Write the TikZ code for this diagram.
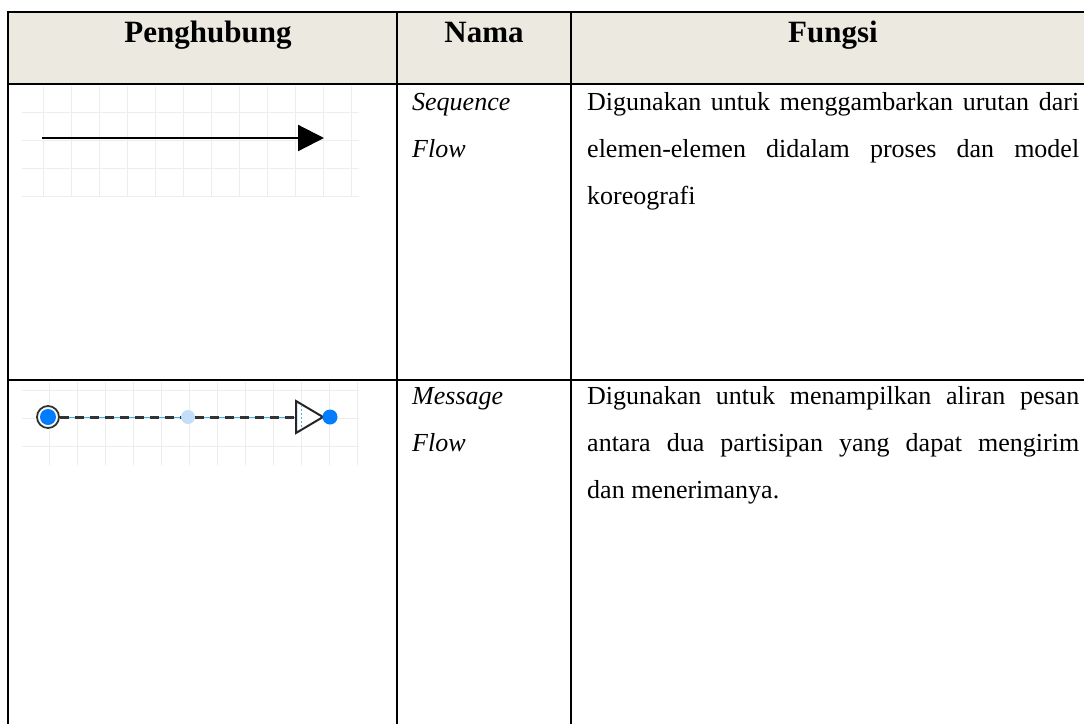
\documentclass[tikz,border=0pt]{standalone}
\usepackage{fontspec}
\setmainfont{Liberation Serif}
\usetikzlibrary{arrows.meta,calc}

\begin{document}
\begin{tikzpicture}[x=1pt, y=-1pt,
  rule/.style={line width=2pt, black},
  headtext/.style={inner sep=0pt, anchor=base, font=\fontsize{31}{37}\selectfont\bfseries},
  nametext/.style={inner sep=0pt, anchor=base west, font=\fontsize{26}{47}\selectfont\itshape},
  bodytext/.style={inner sep=0pt, anchor=base west, font=\fontsize{26}{47}\selectfont},
  gridline/.style={black!7, line width=1pt},
  flowdot/.style={circle, inner sep=0pt, minimum size=15pt, fill=flowblue}]

%─────────────
% Controls
%─────────────
\def\gridstep{28}   % Spacing of the light grid behind each connector
\definecolor{headbeige}{RGB}{236,234,224}
\definecolor{flowblue}{RGB}{0,124,255}
\definecolor{flowcyan}{RGB}{60,180,240}
\definecolor{midblue}{RGB}{196,222,250}

\useasboundingbox (0,0) rectangle (1084,724);

%───────────────────────────────────────────────────────
% Light grid patch behind a connector picture
% #1,#2 = top left, #3,#4 = bottom right, #5,#6 = first grid line
%───────────────────────────────────────────────────────
\newcommand{\drawGridPatch}[6]{%
  \fill[white] (#1,#2) rectangle (#3,#4);
  \foreach \gx in {0,...,11} {
    \draw[gridline] ({#5+\gx*\gridstep},#2) -- ({#5+\gx*\gridstep},#4);
  }
  \foreach \gy in {0,...,3} {
    \pgfmathsetmacro{\yy}{#6+\gy*\gridstep}
    \ifdim\yy pt<#4pt
      \draw[gridline] (#1,\yy) -- (#3,\yy);
    \fi
  }
}

%─────────────
% Table frame
%─────────────
\fill[headbeige] (8,12) rectangle (1084,84);
\draw[rule] (8,12) -- (1084,12);
\draw[rule] (8,84) -- (1084,84);
\draw[rule] (8,380) -- (1084,380);
\draw[rule] (8,11) -- (8,724);
\draw[rule] (397,12) -- (397,724);
\draw[rule] (571,12) -- (571,724);

% Header
\node[headtext] (hPenghubung) at (208,42) {Penghubung};
\node[headtext] (hNama) at (484,42) {Nama};
\node[headtext] (hFungsi) at (833,42) {Fungsi};

%─────────────
% Row 1: Sequence Flow
%─────────────
\drawGridPatch{22}{86}{359}{197}{43}{112}
\coordinate (seqStart) at (42,138);
\coordinate (seqEnd) at (324,138);
\draw[line width=2.2pt, -{Triangle[length=26pt, width=26pt]}] (seqStart) -- (seqEnd);

\node[nametext] (nSeqA) at (412,110) {Sequence};
\node[nametext] (nSeqB) at (412,157) {Flow};

\node[bodytext] (fSeqA) at (587,110) {\makebox[492pt][s]{Digunakan untuk menggambarkan urutan dari}};
\node[bodytext] (fSeqB) at (587,157) {\makebox[492pt][s]{elemen-elemen didalam proses dan model}};
\node[bodytext] (fSeqC) at (587,204) {koreografi};

%─────────────
% Row 2: Message Flow
%─────────────
\drawGridPatch{22}{382}{359}{465}{49}{390}
\coordinate (msgBase) at (296,417);
\coordinate (msgTipTop) at (296,401);
\coordinate (msgTipBot) at (296,433);
\coordinate (msgTip) at (323,417);

\node[circle, draw=black!80, line width=1.8pt, fill=white, minimum size=22pt, inner sep=0pt] (msgStart) at (48,417) {};
\draw[flowcyan, line width=1pt] (msgStart.east) -- (msgBase);
\draw[black!80, line width=3pt, dash pattern=on 9pt off 6pt] (msgStart.east) -- (msgBase);
\node[flowdot, minimum size=16pt] (msgStartDot) at (msgStart) {};
\node[circle, fill=midblue, inner sep=0pt, minimum size=14pt] (msgMid) at (188,417) {};
\filldraw[fill=white, draw=black!85, line width=2pt, line join=miter]
  (msgTipTop) -- (msgTip) -- (msgTipBot) -- cycle;
\draw[flowcyan, line width=1pt, dash pattern=on 2pt off 2pt] ($(msgTipTop)+(5,4)$) -- ($(msgTipBot)+(5,-4)$);
\node[flowdot] (msgEnd) at (330,417) {};

\node[nametext] (nMsgA) at (412,404) {Message};
\node[nametext] (nMsgB) at (412,451) {Flow};

\node[bodytext] (fMsgA) at (587,404) {\makebox[492pt][s]{Digunakan untuk menampilkan aliran pesan}};
\node[bodytext] (fMsgB) at (587,451) {\makebox[492pt][s]{antara dua partisipan yang dapat mengirim}};
\node[bodytext] (fMsgC) at (587,498) {dan menerimanya.};

\end{tikzpicture}
\end{document}
